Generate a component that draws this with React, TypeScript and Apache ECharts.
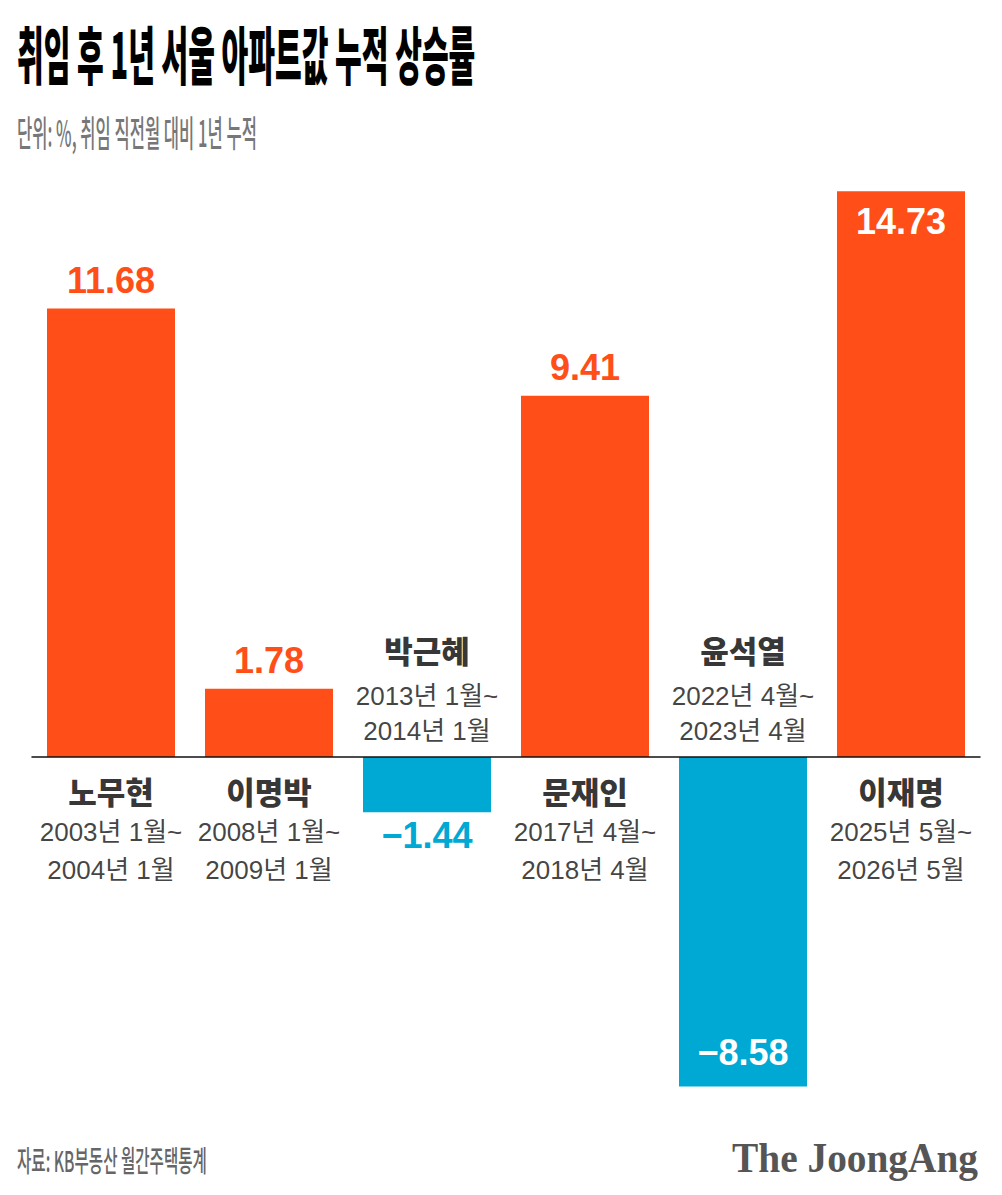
import React, { useEffect, useRef } from 'react';
import * as echarts from 'echarts';

const titleText = '취임 후 1년 서울 아파트값 누적 상승률';
const subtitleText = '단위: %, 취임 직전월 대비 1년 누적';
const sourceText = '자료: KB부동산 월간주택통계';
const logoText = 'The JoongAng';

const presidents = ['노무현', '이명박', '박근혜', '문재인', '윤석열', '이재명'];
const periodStart = ['2003년 1월~', '2008년 1월~', '2013년 1월~', '2017년 4월~', '2022년 4월~', '2025년 5월~'];
const periodEnd = ['2004년 1월', '2009년 1월', '2014년 1월', '2018년 4월', '2023년 4월', '2026년 5월'];
const changes = [11.68, 1.78, -1.44, 9.41, -8.58, 14.73];

const ORANGE = '#FF4E17';
const BLUE = '#00A8D4';
const KR = '"Noto Sans CJK KR", sans-serif';
const NUM = '"Liberation Sans", Arial, sans-serif';
const MIXED = '"Liberation Sans", "Noto Sans CJK KR", sans-serif';

function measure(text: string, font: string): number {
  const c = document.createElement('canvas');
  const ctx = c.getContext('2d');
  if (!ctx) return 1;
  ctx.font = font;
  return ctx.measureText(text).width || 1;
}

function fmt(v: number): string {
  return v < 0 ? '\u2212' + Math.abs(v).toFixed(2) : v.toFixed(2);
}

export default function App() {
  const ref = useRef<HTMLDivElement>(null);

  useEffect(() => {
    if (!ref.current) return;
    const chart = echarts.init(ref.current, undefined, { renderer: 'svg' });

    const titleSize = 63;
    const titleScale = 458 / measure(titleText, `900 ${titleSize}px "Noto Sans CJK KR"`);
    const subSize = 36;
    const subScale = 240 / measure(subtitleText, `500 ${subSize}px "Noto Sans CJK KR"`);
    const srcSize = 29;
    const srcScale = 190 / measure(sourceText, `500 ${srcSize}px "Noto Sans CJK KR"`);
    const logoSize = 42;
    const logoScale = 246 / measure(logoText, `bold ${logoSize}px "Liberation Serif"`);

    const maxV = Math.max(...changes);

    const barData = changes.map((v) => {
      const inside = v === maxV || v < -5;
      let position: any = v >= 0 ? 'top' : 'bottom';
      let distance = v >= 0 ? 10 : 5;
      if (inside) {
        position = v >= 0 ? 'insideTop' : 'insideBottom';
        distance = v >= 0 ? 12 : 16;
      }
      return {
        value: v,
        itemStyle: { color: v >= 0 ? ORANGE : BLUE },
        label: {
          show: true,
          position,
          distance,
          formatter: () => fmt(v),
          color: inside ? '#ffffff' : v >= 0 ? ORANGE : BLUE,
          fontFamily: NUM,
          fontWeight: 'bold',
          fontSize: 36,
        },
      };
    });

    const nameData = changes.map((v, i) => {
      const above = v < 0;
      return {
        value: [i, 0],
        label: {
          show: true,
          position: above ? 'top' : 'bottom',
          distance: above ? 9 : 10,
          formatter: above
            ? `{nt|${presidents[i]}}\n{dt|${periodStart[i]}}\n{dt|${periodEnd[i]}}`
            : `{nb|${presidents[i]}}\n{db|${periodStart[i]}}\n{db|${periodEnd[i]}}`,
          align: 'center',
        },
      };
    });

    const nameStyle = { fontFamily: KR, fontWeight: 900, fontSize: 31, color: '#000000', align: 'center' };
    const dateStyle = { fontFamily: MIXED, fontWeight: 'normal', fontSize: 26, color: '#111111', align: 'center' };

    chart.setOption({
      animation: false,
      backgroundColor: '#ffffff',
      grid: { left: 32, right: 22, top: 181, bottom: 92.4, containLabel: false },
      xAxis: {
        type: 'category',
        data: presidents,
        axisLine: { show: true, onZero: true, lineStyle: { color: '#111111', width: 1.5 } },
        axisTick: { show: false },
        axisLabel: { show: false },
        splitLine: { show: false },
        z: 5,
      },
      yAxis: {
        type: 'value',
        min: -9,
        max: 15,
        show: false,
        splitLine: { show: false },
      },
      series: [
        {
          type: 'bar',
          barWidth: 128,
          data: barData,
          z: 2,
        },
        {
          type: 'scatter',
          symbolSize: 0,
          silent: true,
          data: nameData,
          label: {
            rich: {
              nb: { ...nameStyle, lineHeight: 46 },
              db: { ...dateStyle, lineHeight: 38 },
              nt: { ...nameStyle, lineHeight: 58 },
              dt: { ...dateStyle, lineHeight: 35 },
            },
          },
          z: 3,
        },
      ],
      graphic: [
        {
          type: 'text',
          x: 17,
          y: 51,
          scaleX: titleScale,
          style: {
            text: titleText,
            fontFamily: KR,
            fontWeight: 900,
            fontSize: titleSize,
            fill: '#000000',
            align: 'left',
            verticalAlign: 'middle',
          },
        },
        {
          type: 'text',
          x: 17,
          y: 132,
          scaleX: subScale,
          style: {
            text: subtitleText,
            fontFamily: KR,
            fontWeight: 500,
            fontSize: subSize,
            fill: '#777777',
            align: 'left',
            verticalAlign: 'middle',
          },
        },
        {
          type: 'text',
          x: 17,
          y: 1160,
          scaleX: srcScale,
          style: {
            text: sourceText,
            fontFamily: KR,
            fontWeight: 500,
            fontSize: srcSize,
            fill: '#666666',
            align: 'left',
            verticalAlign: 'middle',
          },
        },
        {
          type: 'text',
          x: 978,
          y: 1158,
          scaleX: logoScale,
          style: {
            text: logoText,
            fontFamily: '"Liberation Serif", "DejaVu Serif", serif',
            fontWeight: 'bold',
            fontSize: logoSize,
            fill: '#555555',
            align: 'right',
            verticalAlign: 'middle',
          },
        },
      ],
    });

    return () => chart.dispose();
  }, []);

  return (
    <div
      ref={ref}
      style={{ position: 'absolute', left: 0, top: 0, width: 1002, height: 1195, background: '#ffffff' }}
    />
  );
}
